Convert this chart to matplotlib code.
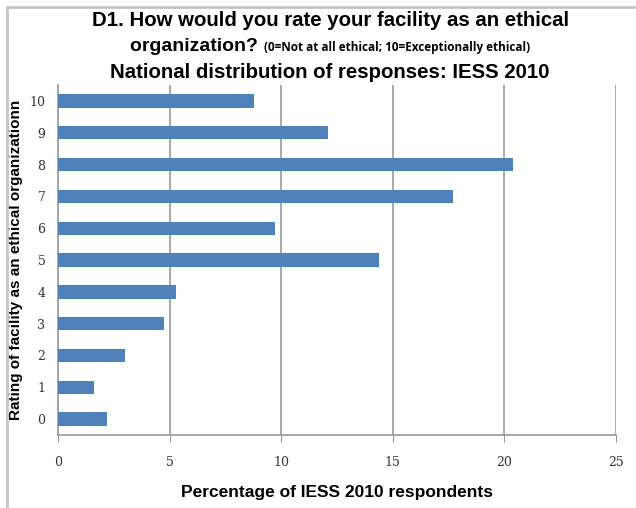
import numpy as np
import matplotlib.pyplot as plt
from matplotlib.patches import Rectangle

# ratings 0..10 and the share of respondents giving each one (%)
ratings = ["0", "1", "2", "3", "4", "5", "6", "7", "8", "9", "10"]
percent = [2.2, 1.6, 3.0, 4.75, 5.3, 14.4, 9.7, 17.7, 20.4, 12.1, 8.8]
x_ticks = [0, 5, 10, 15, 20, 25]

bar_color = "#4F81BD"
grid_color = "#9a9a9a"

fig = plt.figure(figsize=(6.36, 5.08), dpi=100)
ax = fig.add_axes([58 / 636, 73 / 508, 558 / 636, 350 / 508])

y = np.arange(len(ratings))
ax.barh(y, percent, height=0.42, color=bar_color, zorder=3)

ax.set_xlim(0, 25)
ax.set_ylim(-0.5, 10.5)
ax.set_xticks(x_ticks)
ax.set_xticklabels([str(t) for t in x_ticks], family="DejaVu Serif",
                   fontsize=9, color="#333333")
ax.set_yticks(y)
ax.set_yticklabels(ratings, family="DejaVu Serif", fontsize=9, color="#333333")
ax.tick_params(axis="x", length=5, color=grid_color, pad=10)
ax.tick_params(axis="y", length=0, pad=9)

ax.grid(axis="x", color=grid_color, linewidth=1.2, zorder=0)
for side in ["top", "right"]:
    ax.spines[side].set_visible(False)
for side in ["left", "bottom"]:
    ax.spines[side].set_color(grid_color)
    ax.spines[side].set_linewidth(1.2)

ax.set_xlabel("Percentage of IESS 2010 respondents", family="Liberation Sans",
              fontweight="bold", fontsize=12.5, labelpad=12)
ax.set_ylabel("Rating of facility as an ethical organizationn", family="Liberation Sans",
              fontweight="bold", fontsize=11, labelpad=5)

# outer chart frame (left and top edges visible)
fig.patches.append(Rectangle((7 / 636, -0.05), 1.2, 1 - 7 / 508 + 0.05,
                             transform=fig.transFigure, fill=False,
                             edgecolor="#c4c4c4", linewidth=2))

# title, three lines; the second mixes a large and a small font
title_kw = dict(family="Liberation Sans", fontweight="bold", ha="center", va="center")
cx = 0.519
fig.text(cx, 1 - 20 / 508, "D1. How would you rate your facility as an ethical",
         fontsize=14.7, **title_kw)
fig.text(cx, 1 - 72 / 508, "National distribution of responses: IESS 2010",
         fontsize=14.7, **title_kw)

big = fig.text(0, 1 - 46 / 508, "organization? ", fontsize=14,
               family="Liberation Sans", fontweight="bold", va="center")
small = fig.text(0, 1 - 48 / 508, "(0=Not at all ethical; 10=Exceptionally ethical)",
                 fontsize=8.5, family="Open Sans", fontweight="bold", va="center")
fig.canvas.draw()
r = fig.canvas.get_renderer()
w_big = big.get_window_extent(r).width / fig.bbox.width
w_small = small.get_window_extent(r).width / fig.bbox.width
x0 = cx - (w_big + w_small) / 2
big.set_x(x0)
small.set_x(x0 + w_big)

fig.savefig("out.png", dpi=100)
